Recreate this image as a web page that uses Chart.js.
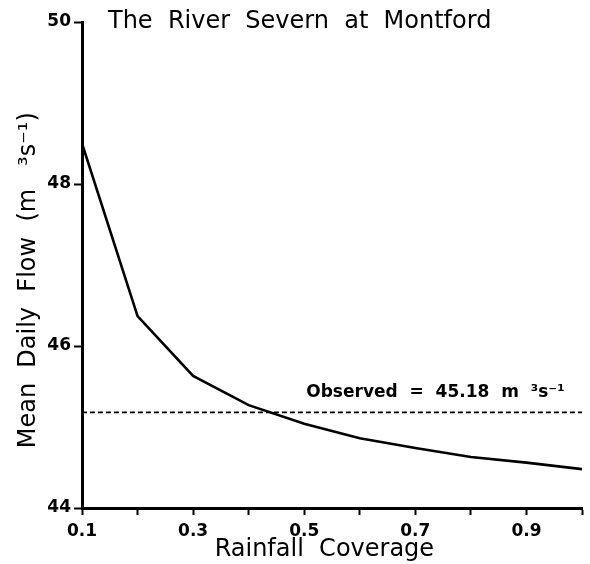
<!DOCTYPE html>
<html>
<head>
<meta charset="utf-8">
<script src="https://cdn.jsdelivr.net/npm/chart.js@4/dist/chart.umd.min.js"></script>
<style>
    html, body { margin: 0; padding: 0; background: #fff; }
    #wrap { width: 590px; height: 564px; position: relative; }
</style>
</head>
<body>
<div id="wrap"><canvas id="flowChart"></canvas></div>
<script>
// ==================== Data ====================
const coverage = [0.1, 0.2, 0.3, 0.4, 0.5, 0.6, 0.7, 0.8, 0.9, 1.0];
const meanFlow = [48.50, 46.37, 45.63, 45.27, 45.04, 44.86, 44.74, 44.63, 44.56, 44.48];
const observedFlow = 45.18;
const xLabelled = ['0.1', '0.3', '0.5', '0.7', '0.9'];
const yTicks = [44, 46, 48, 50];

const chartTitle = 'The  River  Severn  at  Montford';
const observedText = 'Observed  =  45.18  m  \u00B3s\u207B\u00B9';

const ink = '#000';
const fontFamily = '"DejaVu Sans", "Liberation Sans", sans-serif';

// title + observed label drawn on the canvas
const textPlugin = {
    id: 'textPlugin',
    afterDraw(chart) {
        const ctx = chart.ctx;
        const area = chart.chartArea;
        const xs = chart.scales.x;
        const ys = chart.scales.y;
        ctx.save();
        ctx.fillStyle = ink;
        ctx.textBaseline = 'middle';
        ctx.textAlign = 'left';
        ctx.font = `24px ${fontFamily}`;
        ctx.fillText(chartTitle, area.left + 26, area.top);
        ctx.font = `bold 17px ${fontFamily}`;
        ctx.fillText(observedText, xs.getPixelForValue(0.5) + 2, ys.getPixelForValue(observedFlow) - 20);
        ctx.restore();
    }
};

function buildChart() {
    const ctx = document.getElementById('flowChart');
    return new Chart(ctx, {
        type: 'line',
        data: {
            datasets: [
                {
                    label: 'Mean daily flow',
                    data: coverage.map((c, i) => ({ x: c, y: meanFlow[i] })),
                    borderColor: ink,
                    borderWidth: 2.6,
                    pointRadius: 0,
                    tension: 0,
                    fill: false
                },
                {
                    label: 'Observed',
                    data: [{ x: coverage[0], y: observedFlow }, { x: coverage[coverage.length - 1], y: observedFlow }],
                    borderColor: ink,
                    borderWidth: 1.8,
                    borderDash: [5, 3],
                    pointRadius: 0,
                    fill: false
                }
            ]
        },
        options: {
            responsive: true,
            maintainAspectRatio: false,
            animation: false,
            layout: { padding: { top: 22, right: 8, left: 0, bottom: 0 } },
            plugins: {
                legend: { display: false },
                tooltip: { enabled: false },
                title: { display: false }
            },
            scales: {
                x: {
                    type: 'linear',
                    min: 0.1,
                    max: 1.0,
                    afterFit: s => { s.height = 56; },
                    afterBuildTicks: s => {
                        s.ticks = coverage.map(v => ({ value: v }));
                    },
                    border: { display: true, color: ink, width: 3 },
                    grid: { display: true, drawOnChartArea: false, drawTicks: true, tickLength: 7, tickWidth: 2, color: ink },
                    ticks: {
                        autoSkip: false,
                        maxRotation: 0,
                        padding: 6,
                        color: ink,
                        font: { family: fontFamily, size: 17, weight: 'bold' },
                        callback: v => {
                            const t = v.toFixed(1);
                            return xLabelled.includes(t) ? t : '';
                        }
                    },
                    title: {
                        display: true,
                        text: 'Rainfall  Coverage  ',
                        color: ink,
                        padding: { top: 0, bottom: 0 },
                        font: { family: fontFamily, size: 24 }
                    }
                },
                y: {
                    type: 'linear',
                    min: 44,
                    max: 50,
                    afterFit: s => { s.width = 82; },
                    afterBuildTicks: s => {
                        s.ticks = yTicks.map(v => ({ value: v }));
                    },
                    border: { display: true, color: ink, width: 3 },
                    grid: { display: true, drawOnChartArea: false, drawTicks: true, tickLength: 8, tickWidth: 2, color: ink },
                    ticks: {
                        padding: 3,
                        color: ink,
                        font: { family: fontFamily, size: 17, weight: 'bold' }
                    },
                    title: {
                        display: true,
                        text: 'Mean  Daily  Flow  (m   \u00B3s\u207B\u00B9)    ',
                        color: ink,
                        padding: { top: 14, bottom: 0 },
                        font: { family: fontFamily, size: 24 }
                    }
                }
            }
        },
        plugins: [textPlugin]
    });
}

buildChart();
</script>
</body>
</html>
